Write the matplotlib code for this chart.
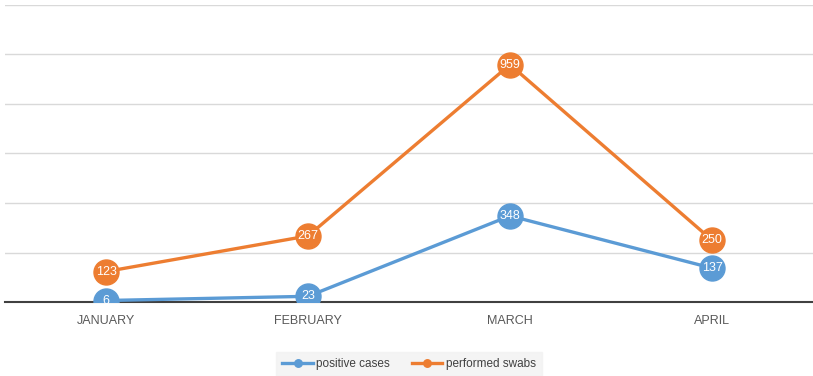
import matplotlib.pyplot as plt
import numpy as np

months = ["JANUARY", "FEBRUARY", "MARCH", "APRIL"]
positive_cases = [6, 23, 348, 137]
performed_swabs = [123, 267, 959, 250]

blue = "#5B9BD5"
orange = "#ED7D31"

plt.rcParams['font.family'] = ['Liberation Sans', 'DejaVu Sans']

fig = plt.figure(figsize=(8.13, 3.76), dpi=100)
ax = fig.add_axes([5 / 813, 1 - 302 / 376, 808 / 813, 297 / 376])

x = np.arange(len(months))
ax.plot(x, positive_cases, color=blue, lw=2.4, marker="o", ms=18,
        label="positive cases", zorder=3)
ax.plot(x, performed_swabs, color=orange, lw=2.4, marker="o", ms=18,
        label="performed swabs", zorder=3)

for xi, v in zip(x, positive_cases):
    ax.text(xi, v, str(v), color="white", fontsize=9, ha="center",
            va="center", zorder=4)
for xi, v in zip(x, performed_swabs):
    ax.text(xi, v, str(v), color="white", fontsize=9, ha="center",
            va="center", zorder=4)

ax.set_xlim(-0.5, 3.5)
ax.set_ylim(0, 1200)
ax.set_yticks(np.arange(0, 1201, 200))
ax.yaxis.grid(True, color="#d9d9d9", lw=1)
ax.set_axisbelow(True)
ax.tick_params(axis="y", left=False, labelleft=False)
ax.tick_params(axis="x", length=0, pad=9, labelsize=9, labelcolor="#595959")
ax.set_xticks(x)
ax.set_xticklabels(months)
for s in ["top", "right", "left"]:
    ax.spines[s].set_visible(False)
ax.spines["bottom"].set_color("#404040")
ax.spines["bottom"].set_linewidth(1.5)
ax.spines["bottom"].set_zorder(2)

leg = fig.legend(loc="center", bbox_to_anchor=(409 / 813, 1 - 364 / 376),
                 ncol=2, fontsize=8.5, frameon=True, markerscale=0.3,
                 handlelength=2.6, handletextpad=0.3, columnspacing=1.8,
                 fancybox=False, borderpad=0.55)
leg.get_frame().set_facecolor("#f2f2f2")
leg.get_frame().set_edgecolor("#f2f2f2")
for t in leg.get_texts():
    t.set_color("#404040")

fig.savefig("out.png", dpi=100)
